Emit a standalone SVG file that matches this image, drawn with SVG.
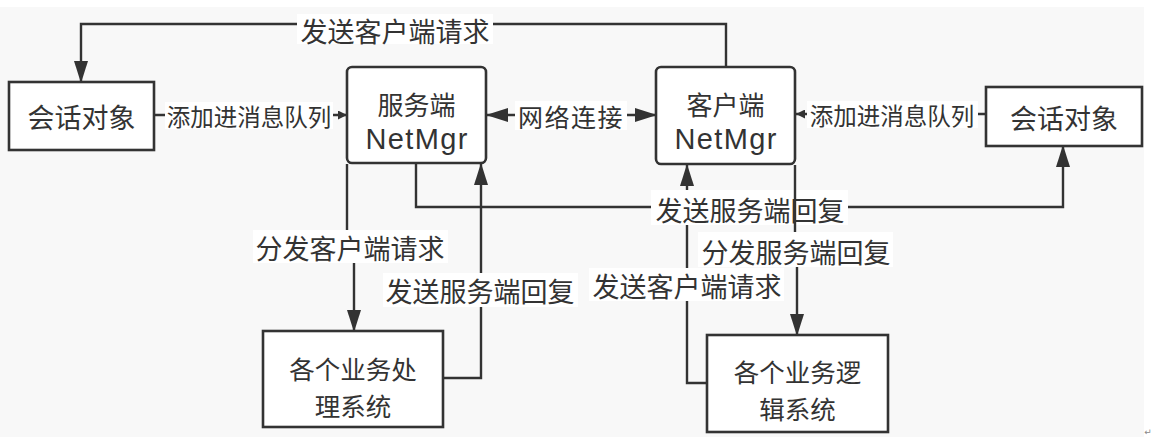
<svg xmlns="http://www.w3.org/2000/svg" width="1153" height="443" viewBox="0 0 1153 443">
<defs>
<style>
.bg{fill:#f8f8f8}
.box{fill:#ffffff;stroke:#333333;stroke-width:2.6}
.ln{fill:none;stroke:#333333;stroke-width:2.4}
.lbg{fill:#ffffff}
.t{font-family:"Noto Sans CJK SC","Noto Sans",sans-serif;fill:#333333;text-anchor:middle;dominant-baseline:central}
.big{font-size:27px}
.mid{font-size:25.5px}
.sm{font-size:23.5px}
.net{font-family:"Liberation Sans","Noto Sans",sans-serif;font-size:29px;fill:#333333;text-anchor:middle;dominant-baseline:central}
</style>
<marker id="ah" markerUnits="userSpaceOnUse" markerWidth="22" markerHeight="14" refX="21" refY="7" orient="auto-start-reverse">
<path d="M0,0 L22,7 L0,14 z" fill="#333333"/>
</marker>
<marker id="as" markerUnits="userSpaceOnUse" markerWidth="9" markerHeight="9" refX="9" refY="4.5" orient="auto">
<path d="M0,0 L9,4.5 L0,9 z" fill="#333333"/>
</marker>
</defs>
<rect class="bg" x="0" y="7" width="1144" height="430"/>

<g id="connectors">
  <path class="ln" d="M726,67 V24 H81 V82" marker-end="url(#ah)"/>
  <rect class="lbg" x="297" y="14" width="196" height="30"/>
  <text class="t big" x="395" y="30">发送客户端请求</text>

  <path class="ln" d="M154,115 H347" marker-end="url(#as)"/>
  <rect class="lbg" x="165" y="102" width="168" height="27"/>
  <text class="t sm" x="249" y="116">添加进消息队列</text>

  <path class="ln" d="M487,115 H656" marker-start="url(#ah)" marker-end="url(#ah)"/>
  <rect class="lbg" x="515" y="101" width="112" height="29"/>
  <text class="t" x="571" y="116" style="font-size:25px;letter-spacing:1.5px">网络连接</text>

  <path class="ln" d="M986,114 H796" marker-end="url(#as)"/>
  <rect class="lbg" x="807" y="101" width="171" height="27"/>
  <text class="t sm" x="892" y="115">添加进消息队列</text>

  <path class="ln" d="M707,383 H687 V165" marker-end="url(#ah)"/>

  <path class="ln" d="M416,164 V207 H1063 V146" marker-end="url(#ah)"/>
  <rect class="lbg" x="651" y="190" width="197" height="35"/>
  <text class="t big" x="750" y="209">发送服务端回复</text>

  <path class="ln" d="M795,165 V250 H797 V335" marker-end="url(#ah)"/>
  <rect class="lbg" x="698" y="232" width="195" height="35"/>
  <text class="t big" x="796" y="251">分发服务端回复</text>

  <rect class="lbg" x="589" y="268" width="195" height="33"/>
  <text class="t big" x="687" y="285">发送客户端请求</text>

  <path class="ln" d="M347,164 V246 H354 V331" marker-end="url(#ah)"/>
  <rect class="lbg" x="253" y="230" width="195" height="33"/>
  <text class="t big" x="350" y="247">分发客户端请求</text>

  <path class="ln" d="M443,378 H481 V164" marker-end="url(#ah)"/>
  <rect class="lbg" x="383" y="273" width="195" height="34"/>
  <text class="t big" x="480" y="290">发送服务端回复</text>
</g>

<g id="session-left">
  <rect class="box" x="9" y="82" width="145" height="68"/>
  <text class="t big" x="81.5" y="116">会话对象</text>
</g>

<g id="server-netmgr">
  <rect class="box" x="347" y="67" width="139" height="96" rx="5"/>
  <text class="t" x="416.5" y="103" style="font-size:26px">服务端</text>
  <text class="net" x="416.5" y="139" textLength="102">NetMgr</text>
</g>

<g id="client-netmgr">
  <rect class="box" x="656" y="67" width="139" height="97" rx="5"/>
  <text class="t" x="725.5" y="103" style="font-size:26px">客户端</text>
  <text class="net" x="725.5" y="139" textLength="102">NetMgr</text>
</g>

<g id="session-right">
  <rect class="box" x="986" y="87" width="156" height="59"/>
  <text class="t big" x="1064" y="117">会话对象</text>
</g>

<g id="server-systems">
  <rect class="box" x="263" y="331" width="180" height="96"/>
  <text class="t mid" x="353" y="367">各个业务处</text>
  <text class="t mid" x="353" y="404">理系统</text>
</g>

<g id="client-systems">
  <rect class="box" x="707" y="335" width="181" height="97"/>
  <text class="t mid" x="797.5" y="370">各个业务逻</text>
  <text class="t mid" x="797.5" y="407">辑系统</text>
</g>

<text x="1148" y="435" style="font-family:'DejaVu Sans',sans-serif;font-size:9px;fill:#888888;text-anchor:middle">↵</text>
</svg>
